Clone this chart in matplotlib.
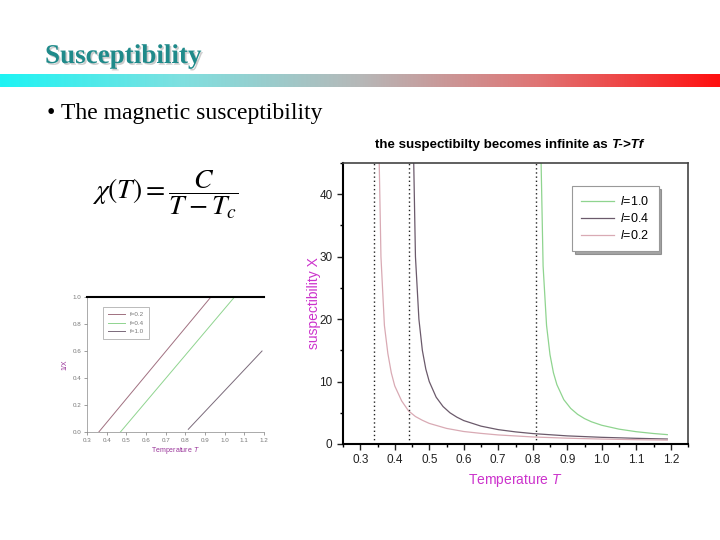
import numpy as np
import matplotlib
matplotlib.use("Agg")
import matplotlib.pyplot as plt
import matplotlib.patheffects as pe
from matplotlib.colors import LinearSegmentedColormap
from matplotlib.ticker import MultipleLocator

plt.rcParams["font.family"] = ["Liberation Sans", "DejaVu Sans"]
plt.rcParams["mathtext.fontset"] = "custom"
plt.rcParams["mathtext.rm"] = "Liberation Sans"
plt.rcParams["mathtext.it"] = "Liberation Sans:italic"
plt.rcParams["mathtext.bf"] = "Liberation Sans:bold"

# =========================
# DATA
# =========================
# main chart: susceptibility vs temperature
t_l02 = [0.35, 0.36, 0.37, 0.38, 0.39, 0.40, 0.42, 0.44, 0.46, 0.48, 0.50,
         0.55, 0.60, 0.65, 0.70, 0.80, 0.90, 1.00, 1.10, 1.19]
chi_l02 = [60, 30, 19, 14.5, 11.4, 9.3, 6.9, 5.3, 4.4, 3.8, 3.3,
           2.5, 2.0, 1.7, 1.45, 1.13, 0.93, 0.79, 0.69, 0.62]

t_l04 = [0.45, 0.46, 0.47, 0.48, 0.49, 0.50, 0.52, 0.54, 0.56, 0.58, 0.60,
         0.65, 0.70, 0.75, 0.80, 0.90, 1.00, 1.10, 1.19]
chi_l04 = [60, 30, 20, 15, 12, 10, 7.5, 6.0, 5.0, 4.3, 3.75,
           2.86, 2.3, 1.94, 1.67, 1.3, 1.07, 0.91, 0.8]

t_l10 = [0.82, 0.83, 0.84, 0.85, 0.86, 0.87, 0.89, 0.91, 0.93, 0.95, 0.97,
         1.00, 1.05, 1.10, 1.15, 1.19]
chi_l10 = [57, 28.5, 19, 14.3, 11.4, 9.5, 7.1, 5.7, 4.75, 4.07, 3.56,
           3.0, 2.38, 1.97, 1.68, 1.5]

t_crit = [0.34, 0.44, 0.81]

x_ticks = [0.3, 0.4, 0.5, 0.6, 0.7, 0.8, 0.9, 1.0, 1.1, 1.2]
y_ticks = [0, 10, 20, 30, 40]

# small chart: 1/chi vs temperature (straight lines)
t_f02 = [0.36, 0.93]
inv_f02 = [0.0, 1.0]
t_f04 = [0.47, 1.05]
inv_f04 = [0.0, 1.0]
t_f10 = [0.815, 1.19]
inv_f10 = [0.02, 0.60]

small_x_ticks = [0.3, 0.4, 0.5, 0.6, 0.7, 0.8, 0.9, 1.0, 1.1, 1.2]
small_y_ticks = [0.0, 0.2, 0.4, 0.6, 0.8, 1.0]

C_PINK = "#d9aab4"
C_DARK = "#6b5a6b"
C_GREEN = "#8fd48f"
C_MAG = "#cc33cc"

fig = plt.figure(figsize=(7.2, 5.4), dpi=100)
fig.patch.set_facecolor("white")

def fy(py):
    return 1 - py / 540

# =========================
# SLIDE HEADER
# =========================
fig.text(45 / 720, fy(63), "Susceptibility", family="Liberation Serif",
         fontweight="bold", fontsize=19.5, color="#1f8a8a", va="baseline",
         path_effects=[pe.withSimplePatchShadow(offset=(1.2, -1.2),
                                               shadow_rgbFace="#999999", alpha=0.5)])

cmap = LinearSegmentedColormap.from_list(
    "bar", [(0, "#1ef4f4"), (0.25, "#7fe0e0"), (0.5, "#b6b8b8"),
            (0.75, "#e07474"), (1, "#ff1010")])
bar_ax = fig.add_axes([0, fy(87), 1, 13 / 540])
bar_ax.imshow(np.linspace(0, 1, 256)[None, :], aspect="auto", cmap=cmap)
bar_ax.axis("off")

fig.text(47 / 720, fy(119), "\u2022 The magnetic susceptibility",
         family="Liberation Serif", fontsize=17, va="baseline")

fig.text(165 / 720, fy(195), r"$\chi(T) = \dfrac{C}{T - T_c}$",
         math_fontfamily="stix", fontsize=20, ha="center", va="center")

# =========================
# MAIN CHART
# =========================
ax = fig.add_axes([343 / 720, fy(444), 345 / 720, 281 / 540])
ax.plot(t_l10, chi_l10, color=C_GREEN, lw=0.9, label=r"$l$=1.0")
ax.plot(t_l04, chi_l04, color=C_DARK, lw=0.9, label=r"$l$=0.4")
ax.plot(t_l02, chi_l02, color=C_PINK, lw=0.9, label=r"$l$=0.2")
for tc in t_crit:
    ax.axvline(tc, color="#222222", lw=1, ls=(0, (1, 2)))

ax.set_xlim(0.25, 1.25)
ax.set_ylim(0, 45)
ax.set_xticks(x_ticks)
ax.set_xticklabels([f"{v:.1f}" for v in x_ticks])
ax.set_yticks(y_ticks)
ax.xaxis.set_minor_locator(MultipleLocator(0.05))
ax.yaxis.set_minor_locator(MultipleLocator(5))
ax.tick_params(which="major", direction="out", length=4, width=1,
               labelsize=8.5, colors="#222222")
ax.tick_params(which="minor", direction="out", length=2.5, width=1)
for s in ["left", "bottom"]:
    ax.spines[s].set_linewidth(1.5)
for s in ["top", "right"]:
    ax.spines[s].set_linewidth(1.2)
    ax.spines[s].set_color("#444444")

ax.set_xlabel(r"Temperature $T$", color=C_MAG, fontsize=10, labelpad=4)
ax.set_ylabel("suspectibility X", color=C_MAG, fontsize=10, labelpad=-1)

leg = ax.legend(loc="upper right", bbox_to_anchor=(0.915, 0.918),
                borderaxespad=0, fontsize=9, frameon=True, fancybox=False,
                shadow=True, handlelength=2.6, handletextpad=0.5,
                borderpad=0.75, labelspacing=0.3)
leg.get_frame().set_edgecolor("#999999")
leg.get_frame().set_linewidth(0.8)

t1 = fig.text(375 / 720, fy(148), "the suspectibilty becomes infinite as ",
              fontsize=9.6, fontweight="bold", va="baseline")
ax.annotate("T->Tf", xy=(1, 0), xycoords=t1, va="bottom", ha="left",
            fontsize=9.6, fontweight="bold", fontstyle="italic",
            annotation_clip=False)

# =========================
# SMALL CHART
# =========================
ax2 = fig.add_axes([87 / 720, fy(432), 177 / 720, 135 / 540])
ax2.plot(t_f02, inv_f02, color="#a07080", lw=0.7, label="f=0.2")
ax2.plot(t_f04, inv_f04, color=C_GREEN, lw=0.7, label="f=0.4")
ax2.plot(t_f10, inv_f10, color="#7a6a7a", lw=0.7, label="f=1.0")
ax2.set_xlim(0.3, 1.2)
ax2.set_ylim(0, 1.0)
ax2.set_xticks(small_x_ticks)
ax2.set_xticklabels([f"{v:.1f}" for v in small_x_ticks])
ax2.set_yticks(small_y_ticks)
ax2.set_yticklabels([f"{v:.1f}" for v in small_y_ticks])
ax2.tick_params(direction="out", length=2, width=0.5, labelsize=4.5,
                colors="#777777", pad=2)
ax2.spines["top"].set_linewidth(1.5)
ax2.spines["top"].set_color("black")
ax2.spines["right"].set_visible(False)
for s in ["left", "bottom"]:
    ax2.spines[s].set_linewidth(0.5)
    ax2.spines[s].set_color("#888888")
ax2.set_xlabel(r"Temperature $T$", color="#993399", fontsize=5, labelpad=2)
ax2.set_ylabel("1/X", color="#993399", fontsize=5, labelpad=3)
leg2 = ax2.legend(loc="upper left", bbox_to_anchor=(0.07, 0.95), fontsize=4.5,
                  frameon=True, fancybox=False, handlelength=2.8,
                  labelspacing=0.5, borderpad=0.8)
leg2.get_frame().set_edgecolor("#888888")
leg2.get_frame().set_linewidth(0.5)
for txt in leg2.get_texts():
    txt.set_color("#777777")

fig.savefig("out.png", dpi=100)
